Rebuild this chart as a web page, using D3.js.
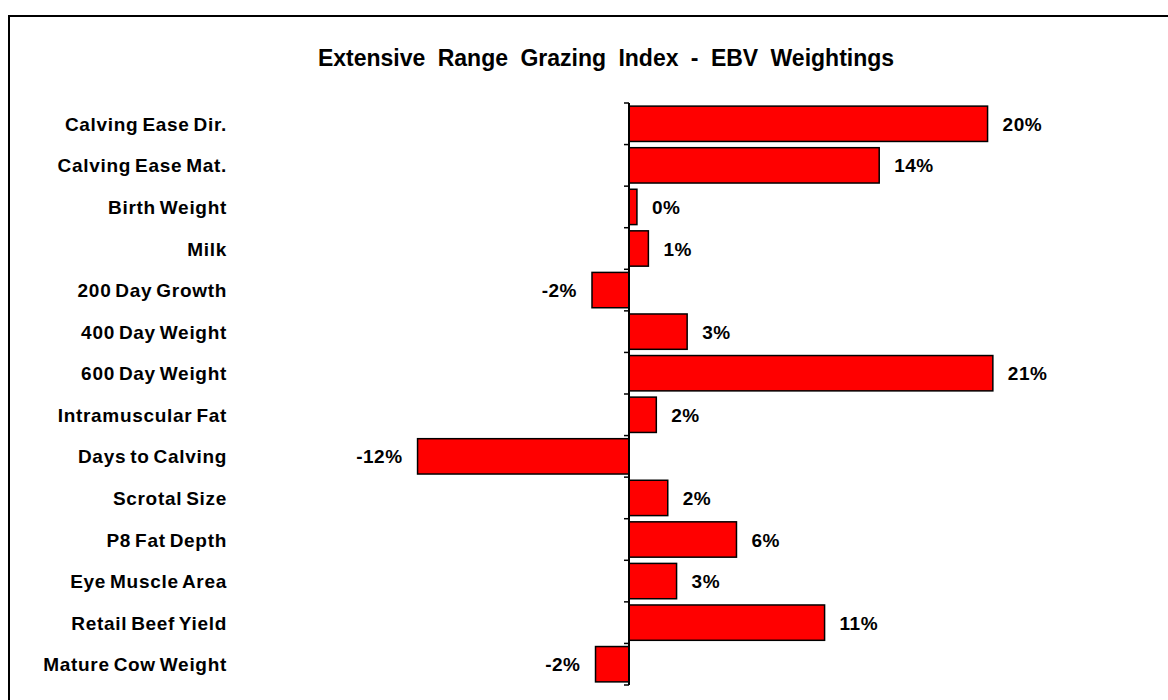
<!DOCTYPE html>
<html>
<head>
<meta charset="utf-8">
<script src="https://cdnjs.cloudflare.com/ajax/libs/d3/7.8.5/d3.min.js"></script>
<style>
    body { margin: 0; background: #fff; }
    svg text { font-family: "Liberation Sans", Arial, sans-serif; font-weight: bold; fill: #000; }
</style>
</head>
<body>
<div id="chart"></div>
<script>
// EBV traits (top to bottom)
const traits = ["Calving Ease Dir.", "Calving Ease Mat.", "Birth Weight", "Milk",
    "200 Day Growth", "400 Day Weight", "600 Day Weight", "Intramuscular Fat",
    "Days to Calving", "Scrotal Size", "P8 Fat Depth", "Eye Muscle Area",
    "Retail Beef Yield", "Mature Cow Weight"];

// weighting in percent
const weights = [20.35, 14.2, 0.45, 1.1, -2.1, 3.3, 20.65, 1.55, -12.0, 2.2, 6.1, 2.7, 11.1, -1.9];

const chartTitle = "Extensive Range Grazing Index - EBV Weightings";

function main() {
    const W = 1168, H = 700;

    const svg = d3.select("#chart")
        .append("svg")
        .attr("width", W)
        .attr("height", H);

    // chart frame (runs off the right and bottom edge)
    svg.append("rect")
        .attr("x", 9)
        .attr("y", 16)
        .attr("width", W + 20)
        .attr("height", H + 20)
        .attr("fill", "none")
        .attr("stroke", "#000")
        .attr("stroke-width", 2);

    svg.append("text")
        .attr("x", 606)
        .attr("y", 66)
        .attr("text-anchor", "middle")
        .attr("font-size", 23)
        .attr("word-spacing", 6)
        .text(chartTitle);

    const pxPerPct = 17.62;
    const x = d3.scaleLinear()
        .domain([-15, 25])
        .range([629 - 15 * pxPerPct, 629 + 25 * pxPerPct]);

    const y = d3.scaleBand()
        .domain(traits)
        .range([103, 685])
        .paddingInner(0.15)
        .paddingOuter(0.075);

    const data = traits.map((t, i) => ({ trait: t, value: weights[i] }));

    // bars
    svg.append("g")
        .selectAll("rect")
        .data(data)
        .enter()
        .append("rect")
        .attr("x", d => x(Math.min(0, d.value)))
        .attr("y", d => y(d.trait))
        .attr("width", d => Math.abs(x(d.value) - x(0)))
        .attr("height", y.bandwidth())
        .attr("fill", "#ff0000")
        .attr("stroke", "#000")
        .attr("stroke-width", 1.5);

    // zero axis with ticks between categories
    const step = y.step();
    const tickYs = d3.range(traits.length + 1).map(i => 103 + i * step);
    const axisG = svg.append("g");
    axisG.append("line")
        .attr("x1", x(0)).attr("x2", x(0))
        .attr("y1", 103).attr("y2", 685)
        .attr("stroke", "#000")
        .attr("stroke-width", 2);
    axisG.selectAll(".tick")
        .data(tickYs)
        .enter()
        .append("line")
        .attr("x1", x(0) - 5).attr("x2", x(0))
        .attr("y1", d => d).attr("y2", d => d)
        .attr("stroke", "#000")
        .attr("stroke-width", 1.5);

    // category labels
    svg.append("g")
        .selectAll("text")
        .data(data)
        .enter()
        .append("text")
        .attr("x", 227)
        .attr("y", d => y(d.trait) + y.bandwidth() / 2 + 7)
        .attr("text-anchor", "end")
        .attr("font-size", 19)
        .attr("letter-spacing", 0.7)
        .attr("word-spacing", -2)
        .text(d => d.trait);

    // value labels
    svg.append("g")
        .selectAll("text")
        .data(data)
        .enter()
        .append("text")
        .attr("x", d => d.value >= 0 ? x(d.value) + 15 : x(d.value) - 15)
        .attr("y", d => y(d.trait) + y.bandwidth() / 2 + 7)
        .attr("text-anchor", d => d.value >= 0 ? "start" : "end")
        .attr("font-size", 19)
        .attr("letter-spacing", 0.5)
        .text(d => Math.round(d.value) + "%");
}

window.addEventListener("load", main);
</script>
</body>
</html>
